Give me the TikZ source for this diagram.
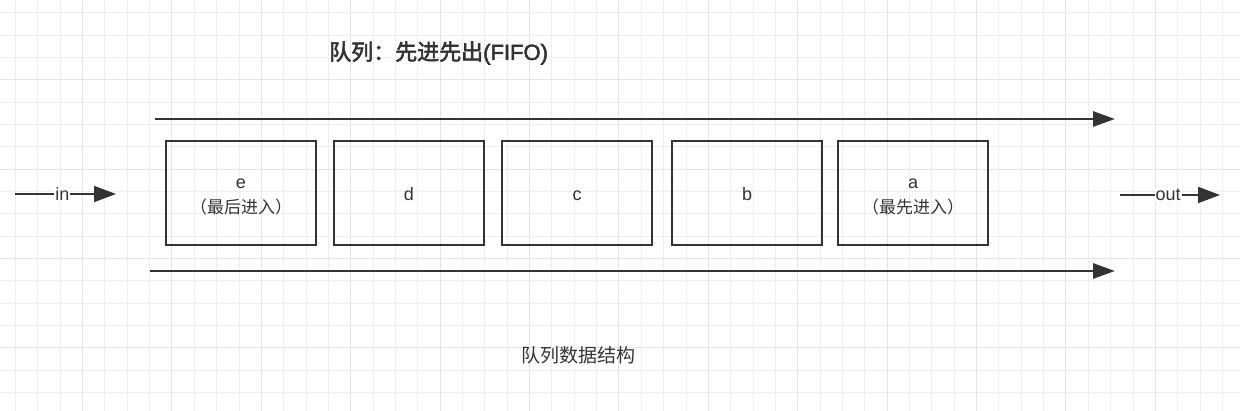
\documentclass[tikz,border=0pt]{standalone}
\usepackage{fontspec}
\setmainfont{Liberation Sans}
\newfontfamily\cjk{Noto Sans CJK SC}
\newfontfamily\cjkb[FakeBold=2.5]{Noto Sans CJK SC}
\newfontfamily\latb[FakeBold=2.5]{Liberation Sans}
\usetikzlibrary{arrows.meta}
\definecolor{ink}{HTML}{333333}
\definecolor{gridminor}{HTML}{EEEEEE}
\definecolor{gridmajor}{HTML}{E4E4E4}
\begin{document}
\begin{tikzpicture}[x=1pt,y=-1pt,
  box/.style={draw=ink, line width=2.5pt, minimum width=150pt, minimum height=104pt, inner sep=0pt, text=ink, align=center, font=\fontsize{18}{22}\selectfont, text height=16pt, text depth=0pt},
  boxtext/.style={text=ink, inner sep=0pt, anchor=base},
  flow/.style={draw=ink, line width=2.7pt, -{Triangle[length=22pt,width=15pt]}},
  io/.style={draw=ink, line width=1.8pt, -{Triangle[length=22pt,width=16pt]}},
  iolabel/.style={fill=white, inner sep=1pt, text=ink, font=\fontsize{18}{20}\selectfont},
  lbl/.style={text=ink, inner sep=0pt}]
\useasboundingbox (0,0) rectangle (1240,411);
\fill[white] (0,0) rectangle (1240,411);
% grid
\foreach \i in {0,...,55} {
  \pgfmathtruncatemacro{\m}{mod(\i,4)}
  \pgfmathsetmacro{\gx}{floor(15.5+22.35*\i)+0.5}
  \ifnum\m=3
    \draw[gridmajor, line width=1.2pt] (\gx,0) -- (\gx,411);
  \else
    \draw[gridminor, line width=1.2pt] (\gx,0) -- (\gx,411);
  \fi
}
\foreach \j in {0,...,18} {
  \pgfmathtruncatemacro{\m}{mod(\j,4)}
  \pgfmathsetmacro{\gy}{floor(12.7+22.35*\j)+0.5}
  \ifnum\m=3
    \draw[gridmajor, line width=1.2pt] (0,\gy) -- (1240,\gy);
  \else
    \draw[gridminor, line width=1.2pt] (0,\gy) -- (1240,\gy);
  \fi
}
% title
\node[lbl, anchor=west, font=\fontsize{22}{24}\selectfont] (title) at (329,53) {\cjkb 队列：先进先出\latb(FIFO)};
% boxes
\node[box] (e) at (241,193) {};
\node[boxtext, font=\fontsize{18}{22}\selectfont] (etop) at ([yshift=4pt]e.center) {e};
\node[boxtext, font=\cjk\fontsize{17}{22}\selectfont] (ebot) at ([yshift=-21pt]e.center) {（最后进入）};
\node[box] (d) at (409,193) {d};
\node[box] (c) at (577,193) {c};
\node[box] (b) at (747,193) {b};
\node[box] (a) at (913,193) {};
\node[boxtext, font=\fontsize{18}{22}\selectfont] (atop) at ([yshift=4pt]a.center) {a};
\node[boxtext, font=\cjk\fontsize{17}{22}\selectfont] (abot) at ([yshift=-21pt]a.center) {（最先进入）};
% flow arrows
\coordinate (t1) at (155,119);
\coordinate (t2) at (1115,119);
\coordinate (u1) at (150,271);
\coordinate (u2) at (1115,271);
\draw[flow] (t1) -- (t2);
\draw[flow] (u1) -- (u2);
% in / out
\coordinate (in1) at (15,194);
\coordinate (in2) at (116,194);
\coordinate (out1) at (1120,195);
\coordinate (out2) at (1220,195);
\draw[io] (in1) -- node[iolabel, pos=0.47] (inlbl) {in} (in2);
\draw[io] (out1) -- node[iolabel, pos=0.48] (outlbl) {out} (out2);
% caption
\node[lbl, font=\cjk\fontsize{19}{21}\selectfont] (caption) at (578,355) {队列数据结构};
\end{tikzpicture}
\end{document}
